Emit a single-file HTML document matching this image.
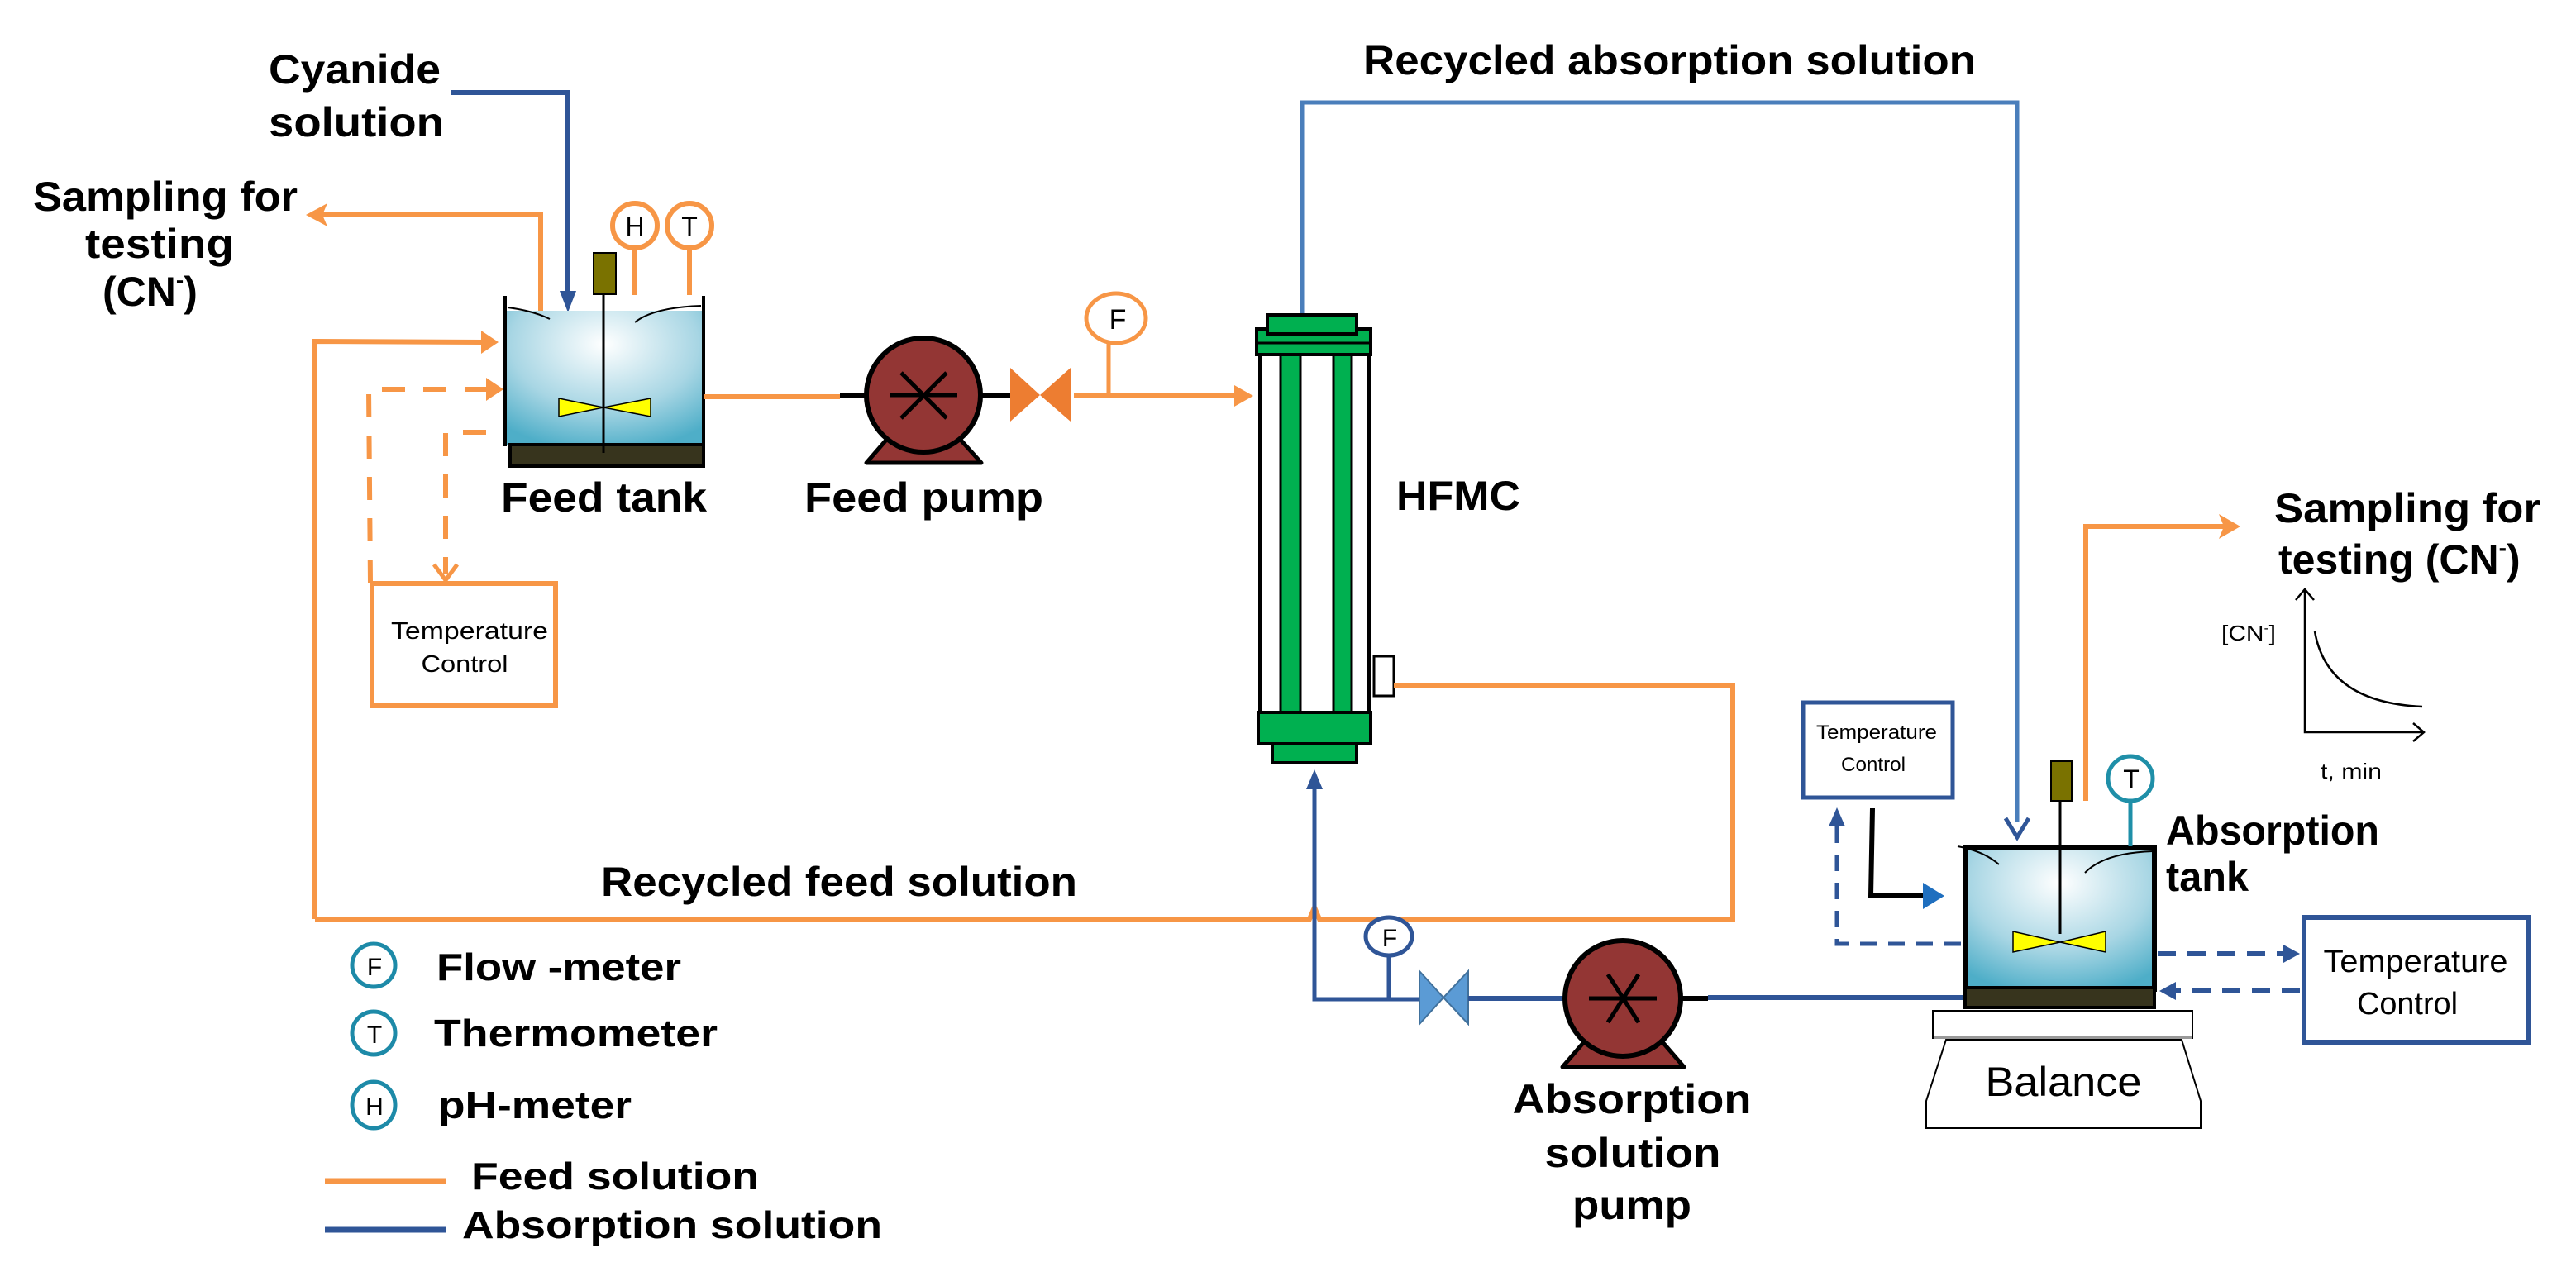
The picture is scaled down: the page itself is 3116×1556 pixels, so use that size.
<!DOCTYPE html>
<html><head><meta charset="utf-8"><style>
html,body{margin:0;padding:0;background:#fff;}
svg{display:block;}
text{font-family:"Liberation Sans",Arial,sans-serif;fill:#000;}
.b{font-weight:bold;}
</style></head><body>
<svg width="3116" height="1556" viewBox="0 0 3116 1556" xmlns="http://www.w3.org/2000/svg">
<defs>
<radialGradient id="liq" cx="0.5" cy="0.25" r="0.8">
<stop offset="0" stop-color="#ffffff"/><stop offset="0.6" stop-color="#a8d6e4"/><stop offset="1" stop-color="#4eaec8"/>
</radialGradient>
</defs>

<!-- ===== Feed tank area ===== -->
<!-- cyanide blue line -->
<polyline points="545,112 687,112 687,360" fill="none" stroke="#2f5597" stroke-width="6"/>
<polygon points="677,352 697,352 687,378" fill="#2f5597"/>
<!-- sampling orange arrow -->
<polyline points="654,376 654,260 390,260" fill="none" stroke="#f79646" stroke-width="6"/>
<polygon points="370,260 396,246 390,260 396,274" fill="#f79646"/>
<!-- liquid -->
<rect x="613" y="376" width="236" height="162" fill="url(#liq)"/>
<line x1="611" y1="358" x2="611" y2="540" stroke="#000" stroke-width="4"/>
<line x1="851" y1="358" x2="851" y2="540" stroke="#000" stroke-width="4"/>
<path d="M614,372 Q645,376 665,386" fill="none" stroke="#000" stroke-width="2"/>
<path d="M768,390 Q790,372 848,370" fill="none" stroke="#000" stroke-width="2"/>
<rect x="617" y="538" width="234" height="26" fill="#37341d" stroke="#000" stroke-width="4"/>
<!-- shaft, motor, impeller -->
<line x1="730" y1="355" x2="730" y2="548" stroke="#000" stroke-width="3"/>
<rect x="718" y="306" width="27" height="50" fill="#7a7200" stroke="#000" stroke-width="2"/>
<polygon points="676,482 730,493 676,504" fill="#ffff00" stroke="#000" stroke-width="1.5"/>
<polygon points="787,482 730,493 787,504" fill="#ffff00" stroke="#000" stroke-width="1.5"/>
<!-- H and T meters -->
<line x1="768" y1="300" x2="768" y2="357" stroke="#f79646" stroke-width="6"/>
<line x1="834" y1="300" x2="834" y2="357" stroke="#f79646" stroke-width="6"/>
<circle cx="768" cy="273" r="27" fill="#fff" stroke="#f79646" stroke-width="6"/>
<circle cx="834" cy="273" r="27" fill="#fff" stroke="#f79646" stroke-width="6"/>
<text x="768" y="285" font-size="32" text-anchor="middle">H</text>
<text x="834" y="285" font-size="32" text-anchor="middle">T</text>
<!-- inlet solid orange -->
<polyline points="381,1112 381,413 585,414" fill="none" stroke="#f79646" stroke-width="6"/>
<polygon points="603,414 582,400 582,428" fill="#f79646"/>
<!-- dashed -->
<polyline points="448,705 446,471 590,471" fill="none" stroke="#f79646" stroke-width="6" stroke-dasharray="28,22"/>
<polygon points="609,471 588,457 588,485" fill="#f79646"/>
<polyline points="588,523 539,523 539,695" fill="none" stroke="#f79646" stroke-width="6" stroke-dasharray="28,22"/>
<polyline points="525,683 539,702 553,683" fill="none" stroke="#f79646" stroke-width="5"/>
<!-- left temp box -->
<rect x="450" y="706" width="222" height="148" fill="#fff" stroke="#f79646" stroke-width="6"/>
<text x="568" y="773" font-size="29" text-anchor="middle" textLength="190" lengthAdjust="spacingAndGlyphs">Temperature</text>
<text x="562" y="813" font-size="29" text-anchor="middle" textLength="105" lengthAdjust="spacingAndGlyphs">Control</text>

<!-- ===== Feed pump ===== -->
<line x1="851" y1="480" x2="1016" y2="480" stroke="#f79646" stroke-width="6"/>
<line x1="1016" y1="479" x2="1222" y2="479" stroke="#000" stroke-width="6"/>
<polygon points="1048,560 1074,530 1160,530 1187,560" fill="#933634" stroke="#000" stroke-width="5" stroke-linejoin="round"/>
<circle cx="1117" cy="478" r="69" fill="#933634" stroke="#000" stroke-width="6"/>
<line x1="1077" y1="478" x2="1158" y2="478" stroke="#000" stroke-width="5"/>
<line x1="1090" y1="451" x2="1145" y2="506" stroke="#000" stroke-width="5"/>
<line x1="1145" y1="451" x2="1090" y2="506" stroke="#000" stroke-width="5"/>
<polygon points="1222,445 1258,478 1222,510" fill="#ed7d31"/>
<polygon points="1295,445 1258,478 1295,510" fill="#ed7d31"/>
<line x1="1299" y1="478" x2="1498" y2="479" stroke="#f79646" stroke-width="6"/>
<polygon points="1516,479 1493,466 1493,492" fill="#f79646"/>
<line x1="1341" y1="478" x2="1341" y2="415" stroke="#f79646" stroke-width="5"/>
<ellipse cx="1350" cy="385" rx="36" ry="30" fill="#fff" stroke="#f79646" stroke-width="5"/>
<text x="1352" y="398" font-size="34" text-anchor="middle">F</text>

<!-- ===== HFMC ===== -->
<polyline points="1575,381 1575,124 2440,124 2440,995" fill="none" stroke="#4a7ebb" stroke-width="5"/>
<polyline points="2426,990 2440,1013 2454,990" fill="none" stroke="#2f5597" stroke-width="5"/>
<rect x="1524" y="429" width="132" height="434" fill="#fff" stroke="#000" stroke-width="4"/>
<rect x="1549" y="425" width="24" height="440" fill="#00b050" stroke="#000" stroke-width="3"/>
<rect x="1613" y="429" width="22" height="436" fill="#00b050" stroke="#000" stroke-width="3"/>
<rect x="1520" y="398" width="138" height="31" fill="#00b050" stroke="#000" stroke-width="4"/>
<line x1="1520" y1="415" x2="1658" y2="415" stroke="#000" stroke-width="3"/>
<rect x="1533" y="381" width="108" height="23" fill="#00b050" stroke="#000" stroke-width="4"/>
<rect x="1522" y="862" width="136" height="38" fill="#00b050" stroke="#000" stroke-width="4"/>
<rect x="1539" y="900" width="102" height="23" fill="#00b050" stroke="#000" stroke-width="4"/>
<rect x="1662" y="794" width="24" height="48" fill="#fff" stroke="#000" stroke-width="3"/>
<!-- return orange loop -->
<polyline points="1686,829 2096,829 2096,1112 1596,1112 1590,1098 1584,1112 381,1112" fill="none" stroke="#f79646" stroke-width="6"/>

<!-- ===== absorption pump line ===== -->
<polyline points="1590,950 1590,1209 1716,1209" fill="none" stroke="#2f5597" stroke-width="5"/>
<polygon points="1590,931 1580,955 1600,955" fill="#2f5597"/>
<line x1="1680" y1="1209" x2="1680" y2="1155" stroke="#2f5597" stroke-width="5"/>
<ellipse cx="1680" cy="1133" rx="28" ry="23" fill="#fff" stroke="#2f5597" stroke-width="5"/>
<text x="1681" y="1145" font-size="30" text-anchor="middle">F</text>
<polygon points="1717,1175 1746,1207 1717,1239" fill="#5b9bd5" stroke="#41719c" stroke-width="2"/>
<polygon points="1776,1175 1746,1207 1776,1239" fill="#5b9bd5" stroke="#41719c" stroke-width="2"/>
<line x1="1776" y1="1208" x2="1895" y2="1208" stroke="#2f5597" stroke-width="6"/>
<line x1="2034" y1="1208" x2="2066" y2="1208" stroke="#000" stroke-width="6"/>
<line x1="2066" y1="1207" x2="2375" y2="1207" stroke="#2f5597" stroke-width="6"/>
<polygon points="1890,1291 1915,1262 2012,1262 2037,1291" fill="#933634" stroke="#000" stroke-width="5" stroke-linejoin="round"/>
<ellipse cx="1963" cy="1208" rx="70" ry="70" fill="#933634" stroke="#000" stroke-width="6"/>
<line x1="1922" y1="1208" x2="2004" y2="1208" stroke="#000" stroke-width="5"/>
<line x1="1945" y1="1179" x2="1982" y2="1237" stroke="#000" stroke-width="5"/>
<line x1="1982" y1="1179" x2="1945" y2="1237" stroke="#000" stroke-width="5"/>

<!-- ===== Absorption tank ===== -->
<rect x="2377" y="1025" width="229" height="172" fill="url(#liq)" stroke="#000" stroke-width="6"/>
<rect x="2377" y="1195" width="229" height="24" fill="#37341d" stroke="#000" stroke-width="4"/>
<path d="M2368,1024 Q2400,1030 2418,1046" fill="none" stroke="#000" stroke-width="2"/>
<path d="M2522,1056 Q2545,1032 2604,1030" fill="none" stroke="#000" stroke-width="2"/>
<line x1="2492" y1="965" x2="2492" y2="1130" stroke="#000" stroke-width="3"/>
<rect x="2481" y="921" width="25" height="48" fill="#7a7200" stroke="#000" stroke-width="2"/>
<polygon points="2435,1127 2492,1140 2435,1152" fill="#ffff00" stroke="#000" stroke-width="1.5"/>
<polygon points="2547,1127 2492,1140 2547,1152" fill="#ffff00" stroke="#000" stroke-width="1.5"/>
<line x1="2577" y1="970" x2="2577" y2="1024" stroke="#1f8fa8" stroke-width="5"/>
<circle cx="2577" cy="942" r="27" fill="#fff" stroke="#1f8fa8" stroke-width="5"/>
<text x="2578" y="954" font-size="32" text-anchor="middle">T</text>
<!-- sampling right -->
<polyline points="2523,969 2523,637 2690,637" fill="none" stroke="#f79646" stroke-width="6"/>
<polygon points="2710,637 2684,622 2690,637 2684,652" fill="#f79646"/>
<!-- balance -->
<rect x="2338" y="1223" width="314" height="33" fill="#fff" stroke="#000" stroke-width="2"/>
<line x1="2340" y1="1255" x2="2652" y2="1255" stroke="#999" stroke-width="4"/>
<polygon points="2354,1258 2639,1258 2662,1332 2662,1365 2330,1365 2330,1332" fill="#fff" stroke="#000" stroke-width="2"/>
<text x="2496" y="1326" font-size="50" text-anchor="middle" textLength="189" lengthAdjust="spacingAndGlyphs">Balance</text>
<!-- small temp control -->
<rect x="2181" y="850" width="181" height="115" fill="#fff" stroke="#2f5597" stroke-width="5"/>
<text x="2270" y="894" font-size="24" text-anchor="middle" textLength="146" lengthAdjust="spacingAndGlyphs">Temperature</text>
<text x="2266" y="933" font-size="24" text-anchor="middle" textLength="78" lengthAdjust="spacingAndGlyphs">Control</text>
<polyline points="2372,1142 2222,1142 2222,996" fill="none" stroke="#2f5597" stroke-width="5" stroke-dasharray="20,14"/>
<polygon points="2222,977 2212,1000 2232,1000" fill="#2f5597"/>
<polyline points="2265,978 2263,1084 2330,1084" fill="none" stroke="#000" stroke-width="6"/>
<polygon points="2352,1084 2326,1068 2326,1100" fill="#1f6fbf"/>
<!-- big temp control -->
<line x1="2610" y1="1154" x2="2762" y2="1154" stroke="#2f5597" stroke-width="6" stroke-dasharray="22,14"/>
<polygon points="2782,1154 2762,1143 2762,1165" fill="#2f5597"/>
<line x1="2782" y1="1199" x2="2632" y2="1199" stroke="#2f5597" stroke-width="6" stroke-dasharray="22,14"/>
<polygon points="2612,1199 2632,1188 2632,1210" fill="#2f5597"/>
<rect x="2787" y="1110" width="271" height="151" fill="#fff" stroke="#2f5597" stroke-width="6"/>
<text x="2922" y="1176" font-size="38" text-anchor="middle" textLength="223" lengthAdjust="spacingAndGlyphs">Temperature</text>
<text x="2912" y="1227" font-size="38" text-anchor="middle" textLength="122" lengthAdjust="spacingAndGlyphs">Control</text>
<!-- graph -->
<polyline points="2777,726 2788,713 2799,726" fill="none" stroke="#000" stroke-width="2.5"/>
<polyline points="2788,713 2788,886 2932,886" fill="none" stroke="#000" stroke-width="2.5"/>
<polyline points="2919,875 2932,886 2919,897" fill="none" stroke="#000" stroke-width="2.5"/>
<path d="M2800,764 Q2815,850 2930,855" fill="none" stroke="#000" stroke-width="2.5"/>
<text x="2687" y="775" font-size="26" textLength="66" lengthAdjust="spacingAndGlyphs">[CN<tspan font-size="16" dy="-10">-</tspan><tspan dy="10">]</tspan></text>
<text x="2807" y="942" font-size="26" textLength="74" lengthAdjust="spacingAndGlyphs">t, min</text>

<!-- ===== Bold labels ===== -->
<g class="b" font-weight="bold">
<text x="325" y="101" font-size="50" textLength="208" lengthAdjust="spacingAndGlyphs">Cyanide</text>
<text x="325" y="165" font-size="50" textLength="212" lengthAdjust="spacingAndGlyphs">solution</text>
<text x="40" y="255" font-size="50" textLength="320" lengthAdjust="spacingAndGlyphs">Sampling for</text>
<text x="103" y="312" font-size="50" textLength="180" lengthAdjust="spacingAndGlyphs">testing</text>
<text x="124" y="370" font-size="50">(CN<tspan font-size="28" dy="-22">-</tspan><tspan dy="22">)</tspan></text>
<text x="606" y="619" font-size="50" textLength="249" lengthAdjust="spacingAndGlyphs">Feed tank</text>
<text x="973" y="619" font-size="50" textLength="289" lengthAdjust="spacingAndGlyphs">Feed  pump</text>
<text x="1689" y="617" font-size="50" textLength="150" lengthAdjust="spacingAndGlyphs">HFMC</text>
<text x="1649" y="90" font-size="50" textLength="741" lengthAdjust="spacingAndGlyphs">Recycled absorption solution</text>
<text x="2751" y="632" font-size="50" textLength="322" lengthAdjust="spacingAndGlyphs">Sampling for</text>
<text x="2756" y="694" font-size="50">testing (CN<tspan font-size="28" dy="-22">-</tspan><tspan dy="22">)</tspan></text>
<text x="2620" y="1022" font-size="50" textLength="258" lengthAdjust="spacingAndGlyphs">Absorption</text>
<text x="2620" y="1078" font-size="50" textLength="100" lengthAdjust="spacingAndGlyphs">tank</text>
<text x="1974" y="1347" font-size="50" text-anchor="middle" textLength="289" lengthAdjust="spacingAndGlyphs">Absorption</text>
<text x="1975" y="1412" font-size="50" text-anchor="middle" textLength="213" lengthAdjust="spacingAndGlyphs">solution</text>
<text x="1974" y="1475" font-size="50" text-anchor="middle" textLength="144" lengthAdjust="spacingAndGlyphs">pump</text>
<text x="727" y="1084" font-size="50" textLength="576" lengthAdjust="spacingAndGlyphs">Recycled feed solution</text>
<text x="528" y="1186" font-size="46" textLength="296" lengthAdjust="spacingAndGlyphs">Flow -meter</text>
<text x="525" y="1266" font-size="46" textLength="343" lengthAdjust="spacingAndGlyphs">Thermometer</text>
<text x="530" y="1353" font-size="46" textLength="234" lengthAdjust="spacingAndGlyphs">pH-meter</text>
<text x="570" y="1439" font-size="46" textLength="348" lengthAdjust="spacingAndGlyphs">Feed solution</text>
<text x="559" y="1498" font-size="46" textLength="508" lengthAdjust="spacingAndGlyphs">Absorption solution</text>
</g>
<!-- legend symbols -->
<ellipse cx="452" cy="1168" rx="26" ry="26" fill="#fff" stroke="#1d8aa8" stroke-width="5"/>
<text x="453" y="1180" font-size="30" text-anchor="middle">F</text>
<ellipse cx="452" cy="1250" rx="26" ry="26" fill="#fff" stroke="#1d8aa8" stroke-width="5"/>
<text x="453" y="1262" font-size="30" text-anchor="middle">T</text>
<ellipse cx="452" cy="1337" rx="26" ry="28" fill="#fff" stroke="#1d8aa8" stroke-width="5"/>
<text x="453" y="1349" font-size="30" text-anchor="middle">H</text>
<line x1="393" y1="1429" x2="539" y2="1429" stroke="#f79646" stroke-width="7"/>
<line x1="393" y1="1488" x2="539" y2="1488" stroke="#2f5597" stroke-width="7"/>
</svg>
</body></html>
